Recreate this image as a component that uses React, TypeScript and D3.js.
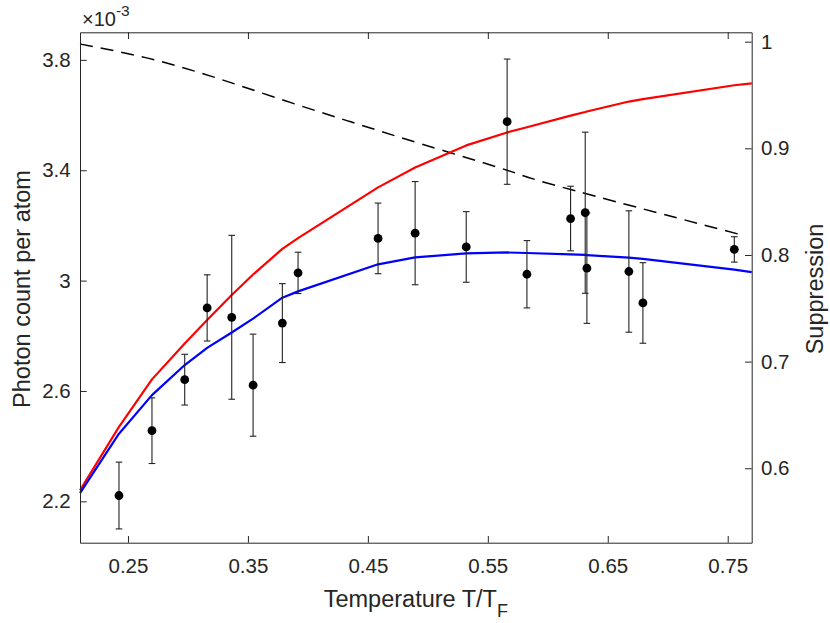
import React, { useEffect, useRef } from "react";
import * as d3 from "d3";

// Measured data points (T/T_F, photon count per atom x1e-3, error)
const temps = [0.2425, 0.270, 0.2973, 0.316, 0.3365, 0.3543, 0.3787, 0.3918, 0.4585, 0.4894, 0.532, 0.5661, 0.5826, 0.619, 0.6312, 0.6326, 0.6676, 0.6793, 0.7555];
const counts = [2.221, 2.456, 2.641, 2.901, 2.867, 2.621, 2.846, 3.028, 3.153, 3.172, 3.122, 3.576, 3.023, 3.225, 3.246, 3.045, 3.033, 2.919, 3.113];
const errs = [0.121, 0.119, 0.092, 0.120, 0.297, 0.185, 0.143, 0.075, 0.128, 0.187, 0.128, 0.227, 0.122, 0.117, 0.292, 0.200, 0.220, 0.146, 0.046];

// Theory curves sampled at the edges and at the measured temperatures
const theoryT = [0.21, 0.2425, 0.270, 0.2973, 0.316, 0.3365, 0.3543, 0.3787, 0.3918, 0.4585, 0.4894, 0.532, 0.5661, 0.5826, 0.619, 0.6312, 0.6326, 0.6676, 0.6793, 0.7555, 0.77];
const redV = [2.240, 2.470, 2.642, 2.772, 2.857, 2.948, 3.022, 3.115, 3.154, 3.338, 3.410, 3.490, 3.537, 3.556, 3.598, 3.611, 3.613, 3.649, 3.658, 3.708, 3.715];
const blueV = [2.230, 2.445, 2.585, 2.694, 2.756, 2.812, 2.862, 2.938, 2.961, 3.059, 3.084, 3.099, 3.102, 3.100, 3.095, 3.093, 3.092, 3.083, 3.079, 3.040, 3.031];

// Suppression (right axis), dashed
const supT = [0.21, 0.2656, 0.321, 0.3768, 0.4325, 0.4936, 0.566, 0.6104, 0.762];
const supV = [0.9978, 0.9848, 0.9670, 0.9462, 0.9260, 0.9045, 0.8795, 0.8640, 0.8187];

const xTicks = [0.25, 0.35, 0.45, 0.55, 0.65, 0.75];
const yLeftTicks = [2.2, 2.6, 3.0, 3.4, 3.8];
const yRightTicks = [0.6, 0.7, 0.8, 0.9, 1.0];

const W = 830, H = 623;
const L = 80, R = 751.7, T = 32.3, B = 542.7;
const FONT = "'Liberation Sans', Arial, Helvetica, sans-serif";
const AX = "#262626";
const LABEL = 23.5;

export default function App() {
  const ref = useRef<SVGSVGElement>(null);

  useEffect(() => {
    const svg = d3.select(ref.current);
    svg.selectAll("*").remove();

    const x = d3.scaleLinear().domain([0.21, 0.77]).range([L, R]);
    const yL = d3.scaleLinear().domain([2.05, 3.9]).range([B, T]);
    const yR = d3.scaleLinear().domain([0.5302, 1.0088]).range([B, T]);
    const fmt = (d: any) => String(+(+d).toFixed(2));
    const tk = 6.7;

    const plot = svg.append("g");

    const supLine = d3.line<number>().x((d, i) => x(supT[i])).y(d => yR(d)).curve(d3.curveNatural);
    plot.append("path").attr("d", supLine(supV)!).attr("fill", "none").attr("stroke", "#000")
      .attr("stroke-width", 1.5).attr("stroke-dasharray", "13 8");

    const redLine = d3.line<number>().x((d, i) => x(theoryT[i])).y(d => yL(d));
    plot.append("path").attr("d", redLine(redV)!).attr("fill", "none").attr("stroke", "#ff0000")
      .attr("stroke-width", 2.2).attr("stroke-linejoin", "round");

    const blueLine = d3.line<number>().x((d, i) => x(theoryT[i])).y(d => yL(d));
    plot.append("path").attr("d", blueLine(blueV)!).attr("fill", "none").attr("stroke", "#0000ff")
      .attr("stroke-width", 2.2).attr("stroke-linejoin", "round");

    // error bars
    const eb = plot.append("g").attr("stroke", "#222").attr("stroke-width", 1.1).attr("fill", "none");
    temps.forEach((t, i) => {
      const cx = x(t), top = yL(counts[i] + errs[i]), bot = yL(counts[i] - errs[i]);
      eb.append("line").attr("x1", cx).attr("x2", cx).attr("y1", top).attr("y2", bot);
      eb.append("line").attr("x1", cx - 3.3).attr("x2", cx + 3.3).attr("y1", top).attr("y2", top);
      eb.append("line").attr("x1", cx - 3.3).attr("x2", cx + 3.3).attr("y1", bot).attr("y2", bot);
    });
    plot.append("g").selectAll("circle").data(temps).join("circle")
      .attr("cx", d => x(d)).attr("cy", (d, i) => yL(counts[i])).attr("r", 4.4).attr("fill", "#000");

    // axes
    const styleAxis = (g: any) => {
      g.select(".domain").attr("stroke", AX).attr("stroke-width", 1);
      g.selectAll(".tick line").attr("stroke", AX).attr("stroke-width", 1);
      g.selectAll(".tick text").attr("fill", AX).attr("font-family", FONT).attr("font-size", 20.5);
    };
    svg.append("g").attr("transform", `translate(0,${B})`)
      .call(d3.axisBottom(x).tickValues(xTicks).tickFormat(fmt).tickSizeInner(-tk).tickSizeOuter(0).tickPadding(15.5) as any)
      .call(styleAxis);
    svg.append("g").attr("transform", `translate(0,${T})`)
      .call(d3.axisTop(x).tickValues(xTicks).tickFormat(() => "").tickSizeInner(-tk).tickSizeOuter(0) as any)
      .call(styleAxis);
    svg.append("g").attr("transform", `translate(${L},0)`)
      .call(d3.axisLeft(yL).tickValues(yLeftTicks).tickFormat(fmt).tickSizeInner(-tk).tickSizeOuter(0).tickPadding(9.3) as any)
      .call(styleAxis);
    svg.append("g").attr("transform", `translate(${R},0)`)
      .call(d3.axisRight(yR).tickValues(yRightTicks).tickFormat(fmt).tickSizeInner(-tk).tickSizeOuter(0).tickPadding(9.3) as any)
      .call(styleAxis);

    // exponent label
    const ex = svg.append("text").attr("x", 82).attr("y", 26).attr("font-family", FONT).attr("fill", AX).attr("font-size", 20);
    ex.append("tspan").text("\u00d710");
    ex.append("tspan").attr("font-size", 15.5).attr("dy", -10).text("-3");

    // axis labels
    const xl = svg.append("text").attr("x", (L + R) / 2).attr("y", 606.5).attr("text-anchor", "middle")
      .attr("font-family", FONT).attr("font-size", LABEL).attr("fill", AX);
    xl.append("tspan").text("Temperature T/T");
    xl.append("tspan").attr("font-size", 18).attr("dy", 10).text("F");

    svg.append("text").attr("transform", `translate(29.5,289) rotate(-90)`).attr("text-anchor", "middle")
      .attr("font-family", FONT).attr("font-size", LABEL).attr("fill", AX).text("Photon count per atom");
    svg.append("text").attr("transform", `translate(823,289) rotate(-90)`).attr("text-anchor", "middle")
      .attr("font-family", FONT).attr("font-size", LABEL).attr("fill", AX).text("Suppression");
  }, []);

  return (
    <svg ref={ref} width={W} height={H} style={{ position: "absolute", left: 0, top: 0, background: "#fff" }} />
  );
}
